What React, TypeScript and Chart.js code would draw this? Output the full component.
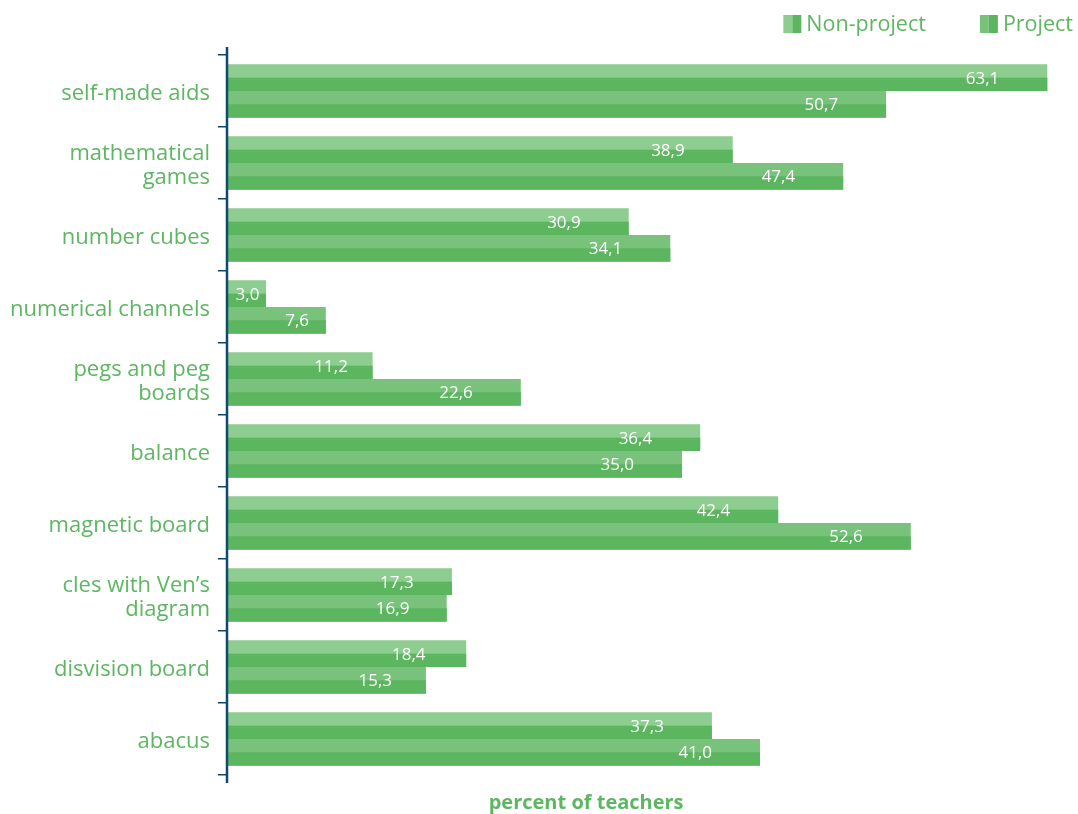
import React, { useEffect, useRef } from "react";
import { Chart, registerables } from "chart.js";

Chart.register(...registerables);

const categories: (string | string[])[] = [
  "self-made aids",
  ["mathematical", "games"],
  "number cubes",
  "numerical channels",
  ["pegs and peg", "boards"],
  "balance",
  "magnetic board",
  ["cles with Ven\u2019s", "diagram"],
  "disvision board",
  "abacus",
];
const nonProject = [63.1, 38.9, 30.9, 3.0, 11.2, 36.4, 42.4, 17.3, 18.4, 37.3];
const project = [50.7, 47.4, 34.1, 7.6, 22.6, 35.0, 52.6, 16.9, 15.3, 41.0];
const seriesNames = ["Non-project", "Project"];

const FONT = "'Open Sans', 'Noto Sans', sans-serif";
const TEXT_GREEN = "#5db762";
const TOP_COLORS = ["#8dcd8f", "#79c27c"];
const DARK = "#5cb55f";
const NAVY = "#0e4a6c";

const fmt = (v: number) => v.toFixed(1).replace(".", ",");

const decorPlugin = {
  id: "decor",
  afterDatasetsDraw(chart: any) {
    const ctx = chart.ctx;
    ctx.save();
    chart.data.datasets.forEach((ds: any, di: number) => {
      const meta = chart.getDatasetMeta(di);
      meta.data.forEach((el: any) => {
        const { x, y, base, height } = el.getProps(["x", "y", "base", "height"], true);
        const left = Math.min(base, x);
        const w = Math.abs(x - base);
        ctx.fillStyle = DARK;
        ctx.fillRect(left, y, w, height / 2);
      });
    });
    chart.data.datasets.forEach((ds: any, di: number) => {
      const meta = chart.getDatasetMeta(di);
      meta.data.forEach((el: any, i: number) => {
        const { x, y, base } = el.getProps(["x", "y", "base"], true);
        const w = Math.abs(x - base);
        const off = Math.min(48, w * 0.17);
        ctx.fillStyle = "#ffffff";
        ctx.font = `17px ${FONT}`;
        ctx.textAlign = "right";
        ctx.textBaseline = "middle";
        ctx.fillText(fmt(ds.data[i]), x - off, y + 1);
      });
    });
    ctx.restore();
  },
  afterDraw(chart: any) {
    const ctx = chart.ctx;
    const area = chart.chartArea;
    ctx.save();
    // axis line
    ctx.strokeStyle = NAVY;
    ctx.lineWidth = 2.5;
    ctx.beginPath();
    ctx.moveTo(area.left, area.top - 8);
    ctx.lineTo(area.left, area.bottom + 8);
    ctx.stroke();
    // axis title
    ctx.fillStyle = TEXT_GREEN;
    ctx.font = `bold 20px ${FONT}`;
    ctx.textAlign = "center";
    ctx.textBaseline = "middle";
    ctx.fillText("percent of teachers", area.left + area.width * 0.425, 803);
    // legend
    ctx.font = `21.5px ${FONT}`;
    ctx.textAlign = "left";
    let xr = chart.width - 5;
    const items = [...seriesNames].map((n, i) => ({ n, i })).reverse();
    items.forEach(({ n, i }) => {
      const tw = ctx.measureText(n).width;
      const tx = xr - tw;
      const bx = tx - 5 - 18;
      ctx.fillStyle = TOP_COLORS[i];
      ctx.fillRect(bx, 15, 9, 18);
      ctx.fillStyle = DARK;
      ctx.fillRect(bx + 9, 15, 9, 18);
      ctx.fillStyle = TEXT_GREEN;
      ctx.fillText(n, tx, 25);
      xr = bx - 54;
    });
    ctx.restore();
  },
};

export default function App() {
  const ref = useRef<HTMLCanvasElement | null>(null);
  useEffect(() => {
    document.body.style.margin = "0";
    const chart = new Chart(ref.current as HTMLCanvasElement, {
      type: "bar",
      data: {
        labels: categories,
        datasets: [
          {
            label: seriesNames[0],
            data: nonProject,
            backgroundColor: TOP_COLORS[0],
            categoryPercentage: 0.74,
            barPercentage: 1,
          },
          {
            label: seriesNames[1],
            data: project,
            backgroundColor: TOP_COLORS[1],
            categoryPercentage: 0.74,
            barPercentage: 1,
          },
        ],
      },
      options: {
        indexAxis: "y",
        animation: false,
        responsive: false,
        layout: { padding: { top: 55, bottom: 39, right: 6, left: 0 } },
        plugins: { legend: { display: false }, tooltip: { enabled: false } },
        scales: {
          x: { display: false, min: 0, max: 65 },
          y: {
            afterFit: (s: any) => {
              s.width = 227;
            },
            border: { display: false },
            grid: {
              display: true,
              drawOnChartArea: false,
              drawTicks: true,
              tickLength: 9,
              color: NAVY,
              lineWidth: 1.5,
              offset: true,
            },
            ticks: {
              color: TEXT_GREEN,
              padding: 8,
              labelOffset: 3,
              font: { family: FONT, size: 22, lineHeight: 1.1 },
            },
          },
        },
      },
      plugins: [decorPlugin],
    });
    return () => chart.destroy();
  }, []);
  return (
    <div style={{ width: 1078, height: 814, position: "relative" }}>
      <canvas ref={ref} width={1078} height={814} style={{ display: "block" }} />
    </div>
  );
}
